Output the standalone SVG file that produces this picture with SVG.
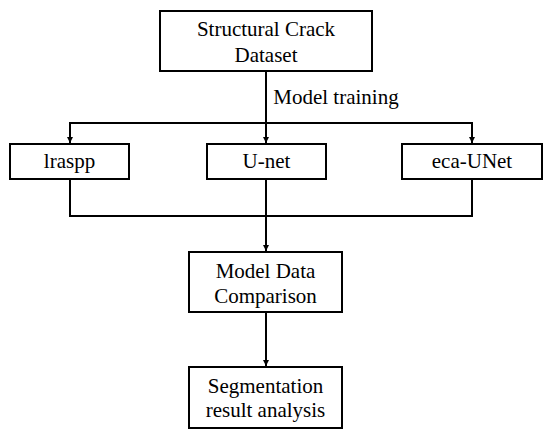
<svg xmlns="http://www.w3.org/2000/svg" width="550" height="437" viewBox="0 0 550 437">
<style>
.box{fill:#fff;stroke:#000;stroke-width:2}
.t{font-family:"Liberation Serif","Times New Roman",serif;font-size:21px;fill:#000;text-anchor:middle}
.c{fill:none;stroke:#000;stroke-width:2}
</style>
<defs>
<marker id="ah" viewBox="0 0 10 10" refX="10" refY="5" markerWidth="6" markerHeight="8" markerUnits="userSpaceOnUse" orient="auto">
<path d="M0,0 L10,5 L0,10 Z" fill="#000"/>
</marker>
</defs>
<rect width="550" height="437" fill="#fff"/>
<g id="connectors">
<path class="c" d="M266,71 V143" marker-end="url(#ah)"/>
<path class="c" d="M70,143 V123 H472 V143" />
<path class="c" d="M70,123 V143" marker-end="url(#ah)"/>
<path class="c" d="M472,123 V143" marker-end="url(#ah)"/>
<path class="c" d="M70,179 V216 H472 V179"/>
<path class="c" d="M266,179 V251" marker-end="url(#ah)"/>
<path class="c" d="M266,312 V366" marker-end="url(#ah)"/>
<text class="t" x="336" y="104">Model training</text>
</g>
<g id="dataset">
<rect class="box" x="160" y="11" width="212" height="60"/>
<text class="t" x="266" y="36">Structural Crack</text>
<text class="t" x="266" y="62">Dataset</text>
</g>
<g id="lraspp">
<rect class="box" x="10" y="144" width="119" height="35"/>
<text class="t" x="69.500" y="168">lraspp</text>
</g>
<g id="unet">
<rect class="box" x="207" y="144" width="119" height="35"/>
<text class="t" x="266.500" y="168">U-net</text>
</g>
<g id="ecaunet">
<rect class="box" x="402" y="144" width="140" height="35"/>
<text class="t" x="472" y="168">eca-UNet</text>
</g>
<g id="comparison">
<rect class="box" x="189" y="252" width="153" height="60"/>
<text class="t" x="265.500" y="278">Model Data</text>
<text class="t" x="265.500" y="303">Comparison</text>
</g>
<g id="segmentation">
<rect class="box" x="189" y="367" width="153" height="61"/>
<text class="t" x="265.500" y="393">Segmentation</text>
<text class="t" x="265.500" y="417">result analysis</text>
</g>
</svg>
